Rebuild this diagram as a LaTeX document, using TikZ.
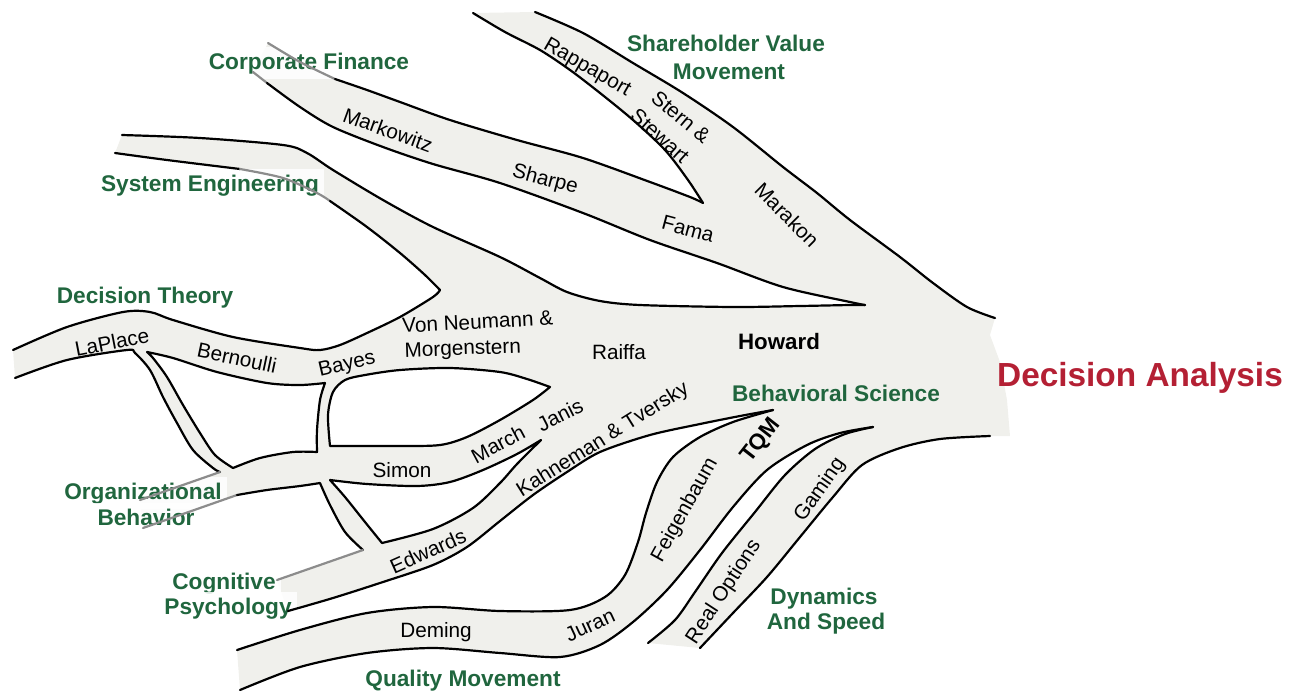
\documentclass[tikz,border=0pt]{standalone}
\usepackage{fontspec}
\setmainfont{Liberation Sans}
\definecolor{river}{RGB}{240,240,236}
\definecolor{grn}{RGB}{32,102,62}
\definecolor{dred}{RGB}{180,32,52}
\begin{document}
\begin{tikzpicture}[x=0.02cm,y=-0.02cm,line join=round,line cap=round,
  riverline/.style={line width=1.25pt,black},
  fadeline/.style={line width=1.25pt,black!45},
  grnlab/.style={text=grn,font=\fontsize{12.9}{15}\selectfont\bfseries,inner sep=1pt},
  boxlab/.style={grnlab,fill=white,fill opacity=0.85,text opacity=1,inner sep=3pt},
  person/.style={font=\fontsize{11.8}{14}\selectfont,inner sep=0pt},
  bperson/.style={font=\fontsize{12.7}{15}\selectfont\bfseries,inner sep=0pt}]
\useasboundingbox (0,0) rectangle (1295,694);
% ---------- river fill ----------
\fill[river] plot[smooth] coordinates {(473,13) (505,32) (540,50) (570,70) (600,93) (633,120) (665,150) (688,180) (703,203)}
 -- plot[smooth] coordinates {(703,203) (690,197) (650,182) (583,158) (517,140) (450,120) (400,102) (367,90) (335,79) (300,62) (268,43)}
 -- plot[smooth] coordinates {(253,72) (267,83) (300,107) (333,127) (383,147) (433,164) (500,183) (583,213) (650,240) (717,263) (783,287) (850,302) (865,305)}
 -- plot[smooth] coordinates {(865,305) (850,305) (800,306) (733,307) (640,305) (600,301) (567,292) (540,278) (500,257) (433,227) (383,200) (333,170) (307,153) (283,145) (200,138) (122,135)}
 -- plot[smooth] coordinates {(115,153) (167,160) (233,168) (283,178) (317,193) (333,203) (367,227) (400,253) (425,275) (440,290)}
 -- plot[smooth] coordinates {(440,290) (433,297) (400,317) (367,333) (340,345) (320,350) (300,348) (233,337) (173,320) (150,312) (123,312) (67,327) (13,350)}
 -- plot[smooth] coordinates {(15,378) (67,360) (127,350) (135,353) (150,370) (163,397) (177,423) (193,450) (213,468) (220,472)}
 -- (140,500) -- (143,528) -- (237,495)
 -- plot[smooth] coordinates {(237,495) (267,490) (300,486) (320,483)}
 -- plot[smooth] coordinates {(320,483) (330,505) (345,532) (363,550)}
 -- (277,580) -- (288,611)
 -- plot[smooth] coordinates {(288,611) (333,598) (383,582) (433,565) (467,547) (500,521) (533,495) (567,472) (600,452) (650,435) (700,424) (740,416) (773,410)}
 -- plot[smooth] coordinates {(773,410) (733,422) (700,437) (673,457) (657,482) (646,513) (638,542) (625,575) (605,597) (570,610) (500,611) (433,607) (367,613) (300,630) (237,650)}
 -- plot[smooth] coordinates {(240,690) (300,667) (367,653) (433,648) (500,653) (560,657) (600,645) (633,622) (667,590) (700,550) (733,507) (767,470) (807,445) (840,433) (873,427)}
 -- plot[smooth] coordinates {(873,427) (845,434) (815,449) (785,475) (755,512) (722,553) (695,592) (675,620) (648,643)}
 -- plot[smooth] coordinates {(700,648) (733,613) (767,577) (800,537) (833,497) (862,465) (900,448) (940,439) (990,436)}
 -- (1010,436) -- (1007,400) -- (1000,362) -- (990,335) -- (995,318)
 -- plot[smooth] coordinates {(995,318) (967,307) (933,283) (900,257) (850,220) (817,193) (783,167) (733,127) (683,93) (633,63) (583,33) (535,12)}
 -- cycle;
% ---------- labels with faded boxes ----------
\node[boxlab,anchor=base] (cf) at (309,69) {Corporate Finance};
\node[boxlab,anchor=base] (se) at (210,191) {System Engineering};
\node[boxlab,anchor=base] (ob1) at (143,499) {Organizational};
\node[boxlab,anchor=base] (ob2) at (146,525) {Behavior};
\node[boxlab,anchor=base] (cp1) at (224,589) {Cognitive};
\node[boxlab,anchor=base] (cp2) at (228,614) {Psychology};
% ---------- outlines ----------
\draw[riverline] plot[smooth] coordinates {(473,13) (505,32) (540,50) (570,70) (600,93) (633,120) (665,150) (688,180) (703,203)};
\draw[riverline] plot[smooth] coordinates {(535,12) (583,33) (633,63) (683,93) (733,127) (783,167) (817,193) (850,220) (900,257) (933,283) (967,307) (995,318)};
\draw[fadeline] plot[smooth] coordinates {(268,43) (300,62) (335,79)};
\draw[riverline] plot[smooth] coordinates {(335,79) (367,90) (400,102) (450,120) (517,140) (583,158) (650,182) (690,197) (703,203)};
\draw[fadeline] (253,72) -- (267,83);
\draw[riverline] plot[smooth] coordinates {(267,83) (300,107) (333,127) (383,147) (433,164) (500,183) (583,213) (650,240) (717,263) (783,287) (850,302) (865,305)};
\draw[riverline] plot[smooth] coordinates {(122,135) (200,138) (283,145) (307,153) (333,170) (383,200) (433,227) (500,257) (540,278) (567,292) (600,301) (640,305) (733,307) (800,306) (850,305) (865,305)};
\draw[riverline] plot[smooth] coordinates {(115,153) (167,160) (240,169)};
\draw[fadeline] plot[smooth] coordinates {(240,169) (283,178) (317,193) (330,201)};
\draw[riverline] plot[smooth] coordinates {(330,201) (367,227) (400,253) (425,275) (440,290)};
\draw[riverline] plot[smooth] coordinates {(440,290) (433,297) (400,317) (367,333) (340,345) (320,350) (300,348) (233,337) (173,320) (150,312) (123,312) (67,327) (13,350)};
\draw[riverline] plot[smooth] coordinates {(15,378) (67,360) (127,350) (135,353) (150,370) (163,397) (177,423) (193,450) (213,468) (220,472)};
\draw[fadeline] (220,472) -- (140,500);
\draw[fadeline] (143,528) -- (237,495);
\draw[riverline] plot[smooth] coordinates {(237,495) (267,490) (300,486) (320,483)} -- plot[smooth] coordinates {(320,483) (330,505) (345,532) (363,550)};
\draw[fadeline] (363,550) -- (277,580);
\draw[riverline] plot[smooth] coordinates {(288,611) (333,598) (383,582) (433,565) (467,547) (500,521) (533,495) (567,472) (600,452) (650,435) (700,424) (740,416) (773,410)};
\draw[riverline] plot[smooth] coordinates {(773,410) (733,422) (700,437) (673,457) (657,482) (646,513) (638,542) (625,575) (605,597) (570,610) (500,611) (433,607) (367,613) (300,630) (237,650)};
\draw[riverline] plot[smooth] coordinates {(240,690) (300,667) (367,653) (433,648) (500,653) (560,657) (600,645) (633,622) (667,590) (700,550) (733,507) (767,470) (807,445) (840,433) (873,427)};
\draw[riverline] plot[smooth] coordinates {(873,427) (845,434) (815,449) (785,475) (755,512) (722,553) (695,592) (675,620) (648,643)};
\draw[riverline] plot[smooth] coordinates {(700,648) (733,613) (767,577) (800,537) (833,497) (862,465) (900,448) (940,439) (990,436)};
% ---------- islands ----------
\draw[riverline,fill=white] plot[smooth] coordinates {(147,352) (173,358) (217,372) (267,383) (300,385) (325,383)}
 -- plot[smooth] coordinates {(325,383) (320,400) (317,430) (317,452)}
 -- plot[smooth] coordinates {(317,452) (293,452) (260,458) (233,468)}
 -- plot[smooth] coordinates {(233,468) (215,455) (200,433) (183,405) (167,377) (153,358) (147,352)} -- cycle;
\draw[riverline,fill=white] plot[smooth] coordinates {(330,446) (328,415) (333,392) (345,380) (365,375) (400,370) (450,368) (500,372) (527,379) (550,387)}
 -- plot[smooth] coordinates {(550,387) (533,400) (500,420) (467,437) (440,445) (400,446) (330,446)} -- cycle;
\draw[riverline,fill=white] plot[smooth] coordinates {(330,480) (367,484) (417,486) (450,482) (483,470) (517,454) (541,440)}
 -- plot[smooth] coordinates {(541,440) (517,464) (500,483) (473,508) (433,529) (382,543)}
 -- plot[smooth] coordinates {(382,543) (365,522) (345,497) (330,480)} -- cycle;
% ---------- green / red labels ----------
\node[grnlab,anchor=base] (svm1) at (726,51) {Shareholder Value};
\node[grnlab,anchor=base] (svm2) at (729,79) {Movement};
\node[grnlab,anchor=base] (dt) at (145,303) {Decision Theory};
\node[grnlab,anchor=base] (qm) at (463,686) {Quality Movement};
\node[grnlab,anchor=base] (ds1) at (824,604) {Dynamics};
\node[grnlab,anchor=base] (ds2) at (826,629) {And Speed};
\node[grnlab,anchor=base] (bs) at (836,401) {Behavioral Science};
\node[anchor=base,text=dred,font=\fontsize{19}{22}\selectfont\bfseries,inner sep=0pt] (da) at (1140,386) {Decision Analysis};
% ---------- people ----------
\node[person,rotate=-30] (rap) at (587,68) {Rappaport};
\node[person,rotate=-40] (stern) at (681,117) {Stern \&};
\node[person,rotate=-42] (stew) at (660,136) {Stewart};
\node[person,rotate=-20] (mark) at (388,130) {Markowitz};
\node[person,rotate=-15] (sharpe) at (545,180) {Sharpe};
\node[person,rotate=-15] (fama) at (688,229) {Fama};
\node[person,rotate=-45] (mara) at (787,215) {Marakon};
\node[person,rotate=11] (lap) at (112,342) {LaPlace};
\node[person,rotate=-12] (bern) at (237,358) {Bernoulli};
\node[person,rotate=13] (bayes) at (347,365) {Bayes};
\node[person,anchor=base,rotate=3] (vn1) at (478,329) {Von Neumann \&};
\node[person,anchor=base,rotate=2] (vn2) at (463,355) {Morgenstern};
\node[person,anchor=base] (raiffa) at (619,359) {Raiffa};
\node[bperson,anchor=base] (howard) at (779,349) {Howard};
\node[person,anchor=base] (simon) at (402,477) {Simon};
\node[person,rotate=28] (march) at (498,444) {March};
\node[person,rotate=27] (janis) at (560,415) {Janis};
\node[person,rotate=32] (kt) at (603,440) {Kahneman \& Tversky};
\node[person,rotate=24] (edw) at (428,551) {Edwards};
\node[person,anchor=base] (deming) at (436,637) {Deming};
\node[person,rotate=25] (juran) at (590,625) {Juran};
\node[person,rotate=61] (feig) at (685,510) {Feigenbaum};
\node[bperson,rotate=52] (tqm) at (761,441) {TQM};
\node[person,rotate=57] (ro) at (724,592) {Real Options};
\node[person,rotate=55] (gam) at (820,490) {Gaming};
\end{tikzpicture}
\end{document}
